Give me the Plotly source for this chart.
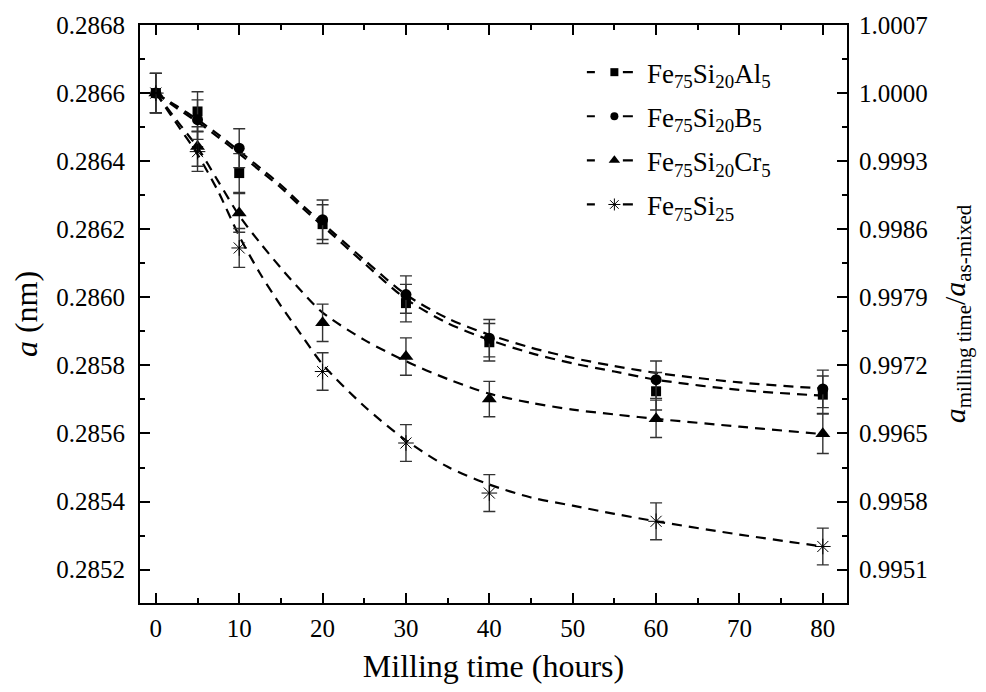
import plotly.graph_objects as go

# ---------------- data ----------------
milling_time = [0, 5, 10, 20, 30, 40, 60, 80]

a_al = [0.28660, 0.286546, 0.286365, 0.286215, 0.285983, 0.285868, 0.285724, 0.285714]
a_b = [0.28660, 0.286522, 0.286438, 0.286228, 0.286008, 0.285880, 0.285758, 0.285731]
a_cr = [0.28660, 0.286443, 0.286248, 0.285925, 0.285826, 0.285701, 0.285643, 0.285599]
a_si = [0.28660, 0.286428, 0.286145, 0.285782, 0.285572, 0.285425, 0.285342, 0.285268]

err_al = [0.000058, 0.000058, 0.000057, 0.000057, 0.000055, 0.000055, 0.000055, 0.000055]
err_b = [0.000058, 0.000058, 0.000057, 0.000058, 0.000055, 0.000055, 0.000055, 0.000055]
err_cr = [0.000058, 0.000058, 0.000057, 0.000055, 0.000055, 0.000052, 0.000055, 0.000058]
err_si = [0.000058, 0.000058, 0.000057, 0.000055, 0.000054, 0.000054, 0.000054, 0.000054]

# fitted (dashed) curves
fit_t = [0, 2.5, 5, 7.5, 10, 12.5, 15, 17.5, 20, 25, 30, 35, 40, 45, 50, 55, 60, 70, 80]
fit_b = [0.28660, 0.286562, 0.286522, 0.286478, 0.28643, 0.28638, 0.28633, 0.286272, 0.286218,
         0.28611, 0.286008, 0.285938, 0.28589, 0.285852, 0.285822, 0.285798, 0.285778, 0.28575, 0.285732]
fit_al = [0.28660, 0.286556, 0.286515, 0.286470, 0.286422, 0.286372, 0.286322, 0.286264, 0.28621,
          0.2861, 0.285995, 0.285924, 0.285875, 0.285836, 0.285806, 0.285782, 0.285758, 0.285728, 0.285711]
fit_cr = [0.28660, 0.28652, 0.28644, 0.28634, 0.28624, 0.28616, 0.286086, 0.286017, 0.285955,
          0.285875, 0.285812, 0.28576, 0.285717, 0.28569, 0.28567, 0.285656, 0.285643, 0.28562, 0.285598]
fit_si = [0.28660, 0.28651, 0.28642, 0.28631, 0.28618, 0.28607, 0.285975, 0.285888, 0.285803,
          0.28568, 0.28558, 0.285502, 0.28545, 0.285412, 0.285388, 0.285364, 0.285342, 0.285303, 0.285268]

y_tickvals = [0.2852, 0.2854, 0.2856, 0.2858, 0.2860, 0.2862, 0.2864, 0.2866, 0.2868]
y_ticktext = ["0.2852", "0.2854", "0.2856", "0.2858", "0.2860", "0.2862", "0.2864", "0.2866", "0.2868"]
ratio_ticktext = ["0.9951", "0.9958", "0.9965", "0.9972", "0.9979", "0.9986", "0.9993", "1.0000", "1.0007"]

names = ["Fe<sub>75</sub>Si<sub>20</sub>Al<sub>5</sub>",
         "Fe<sub>75</sub>Si<sub>20</sub>B<sub>5</sub>",
         "Fe<sub>75</sub>Si<sub>20</sub>Cr<sub>5</sub>",
         "Fe<sub>75</sub>Si<sub>25</sub>"]

FONT = "Liberation Serif, Times New Roman, serif"

series = [
    (names[0], a_al, err_al, fit_al, dict(symbol="square", size=10, color="black")),
    (names[1], a_b, err_b, fit_b, dict(symbol="circle", size=11, color="black")),
    (names[2], a_cr, err_cr, fit_cr, dict(symbol="triangle-up", size=13, color="black")),
    (names[3], a_si, err_si, fit_si, dict(symbol="asterisk-open", size=13, color="black",
                                          line=dict(color="#222", width=1))),
]

fig = go.Figure()

for name, vals, err, fit, mk in series:
    fig.add_trace(go.Scatter(x=fit_t, y=fit, mode="lines", line=dict(color="black", width=2.2,
                             dash="10px,7px", shape="spline", smoothing=0.8),
                             showlegend=False, hoverinfo="skip"))
for name, vals, err, fit, mk in series:
    fig.add_trace(go.Scatter(x=milling_time, y=vals, mode="markers", marker=mk,
                             error_y=dict(type="data", array=err, color="#333333", thickness=1.4, width=6),
                             showlegend=False, name=name))
# legend entries
for i, (name, vals, err, fit, mk) in enumerate(series):
    fig.add_trace(go.Scatter(x=[None], y=[None], mode="lines+markers", name=name,
                             legendgroup=f"g{i}",
                             line=dict(color="black", width=2.2, dash="8px,28px,10px,60px"),
                             marker=dict(mk, size=max(mk["size"] - 3, 8))))

# invisible trace on the right axis
fig.add_trace(go.Scatter(x=[None], y=[None], yaxis="y2", showlegend=False, hoverinfo="skip"))

fig.update_layout(
    width=970, height=676,
    margin=dict(l=132, r=131, t=17, b=81, autoexpand=False),
    paper_bgcolor="white", plot_bgcolor="white",
    font=dict(family=FONT, size=25, color="black"),
    showlegend=True,
    legend=dict(x=0.625, y=0.96, xanchor="left", yanchor="top",
                bgcolor="rgba(0,0,0,0)", font=dict(family=FONT, size=27),
                tracegroupgap=6, itemwidth=55),
    xaxis=dict(range=[-1.9, 82.9], tickvals=[0, 10, 20, 30, 40, 50, 60, 70, 80], automargin=False,
               ticks="inside", ticklen=10, tickwidth=1.5, tickcolor="black",
               minor=dict(ticks="inside", ticklen=5, dtick=5, tick0=0, tickcolor="black", tickwidth=1.5),
               showline=True, linecolor="black", linewidth=2, mirror="ticks",
               showgrid=False, zeroline=False, ticklabelstandoff=2,
               tickfont=dict(family=FONT, size=25),
               title=dict(text="Milling time (hours)", font=dict(family=FONT, size=32), standoff=35)),
    yaxis=dict(range=[0.285102, 0.2868], tickvals=y_tickvals, ticktext=y_ticktext, automargin=False,
               ticks="inside", ticklen=10, tickwidth=1.5, tickcolor="black",
               minor=dict(ticks="inside", ticklen=5, dtick=0.0001, tick0=0.2852, tickcolor="black", tickwidth=1.5),
               showline=True, linecolor="black", linewidth=2, mirror=True,
               showgrid=False, zeroline=False, ticklabelstandoff=8,
               tickfont=dict(family=FONT, size=25),
               title=dict(text="<i>a</i> (nm)", font=dict(family=FONT, size=32), standoff=12)),
    yaxis2=dict(range=[0.285102, 0.2868], overlaying="y", side="right", automargin=False,
                tickvals=y_tickvals, ticktext=ratio_ticktext,
                ticks="inside", ticklen=10, tickwidth=1.5, tickcolor="black",
                minor=dict(ticks="inside", ticklen=5, dtick=0.0001, tick0=0.2852, tickcolor="black", tickwidth=1.5),
                showline=True, linecolor="black", linewidth=2,
                showgrid=False, zeroline=False, ticklabelstandoff=5,
                tickfont=dict(family=FONT, size=25),
                title=dict(text="<i>a</i><sub>milling time</sub>/<i>a</i><sub>as-mixed</sub>",
                           font=dict(family=FONT, size=30), standoff=17)),
)

fig.write_html("out.html")
